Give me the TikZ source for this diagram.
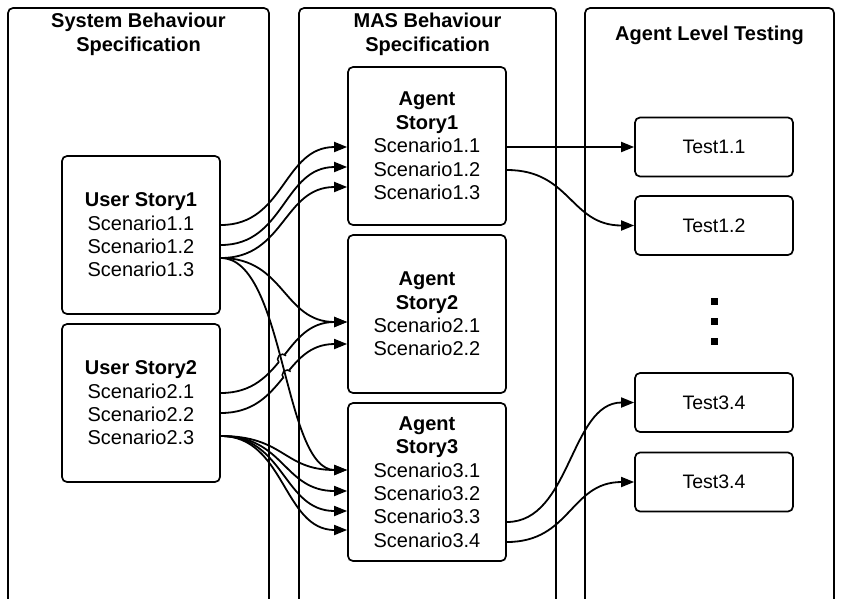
\documentclass[tikz,border=0pt]{standalone}
\usepackage{fontspec}
\setmainfont{Liberation Sans}
\usetikzlibrary{arrows.meta,intersections,calc}

\begin{document}
\begin{tikzpicture}[x=1pt,y=-1pt,
  panel/.style={draw,line width=1.7pt,rounded corners=5pt},
  story/.style={draw,line width=1.7pt,rounded corners=5pt,minimum width=158pt,
    minimum height=158pt,align=center,inner sep=0pt,
    font=\fontsize{20}{23.4}\selectfont},
  testbox/.style={draw,line width=1.7pt,rounded corners=5pt,minimum width=158pt,
    minimum height=59pt,inner sep=0pt,font=\fontsize{19.5}{23}\selectfont},
  title/.style={align=center,font=\fontsize{20}{24}\selectfont\bfseries},
  link/.style={line width=1.8pt,-{Triangle[length=13pt,width=10pt]}},
  dotmark/.style={fill,minimum size=7pt,inner sep=0pt}]

\useasboundingbox (0,0) rectangle (842,598);
\clip (0,0) rectangle (842,598);
\fill[white] (0,0) rectangle (842,598);

% three swimlane panels, running off the bottom edge
\draw[panel] (8,8) rectangle (269,640);
\draw[panel] (299,8) rectangle (556,640);
\draw[panel] (585,8) rectangle (834,640);

\node[title] (tsys) at (138.5,34) {System Behaviour\\Specification};
\node[title] (tmas) at (427.5,34) {MAS Behaviour\\Specification};
\node[title] (talt) at (709.5,35) {Agent Level Testing};

% user stories
\node[story] (us1) at (141,235) {\textbf{User Story1}\\Scenario1.1\\Scenario1.2\\Scenario1.3};
\node[story] (us2) at (141,403) {\textbf{User Story2}\\Scenario2.1\\Scenario2.2\\Scenario2.3};

% agent stories
\node[story] (ag1) at (427,146) {\textbf{Agent}\\\textbf{Story1}\\Scenario1.1\\Scenario1.2\\Scenario1.3};
\node[story] (ag2) at (427,314) {\textbf{Agent}\\\textbf{Story2}\\Scenario2.1\\Scenario2.2};
\node[story] (ag3) at (427,482) {\textbf{Agent}\\\textbf{Story3}\\Scenario3.1\\Scenario3.2\\Scenario3.3\\Scenario3.4};

% agent level tests
\node[testbox] (t11) at (714,147) {Test1.1};
\node[testbox] (t12) at (714,225.5) {Test1.2};
\node[testbox] (t31) at (714,402.5) {Test3.4};
\node[testbox] (t32) at (714,482) {Test3.4};
\node[dotmark] (d1) at (714,301) {};
\node[dotmark] (d2) at (714,321) {};
\node[dotmark] (d3) at (714,341) {};

% scenario ports
\coordinate (u1a) at ([yshift=10pt]us1.east);
\coordinate (u1b) at ([yshift=-10pt]us1.east);
\coordinate (u1c) at ([yshift=-23pt]us1.east);
\coordinate (u2a) at ([yshift=10pt]us2.east);
\coordinate (u2b) at ([yshift=-10pt]us2.east);
\coordinate (u2c) at ([yshift=-33pt]us2.east);
\coordinate (a1a) at ([yshift=-1pt]ag1.west);
\coordinate (a1b) at ([yshift=-21pt]ag1.west);
\coordinate (a1c) at ([yshift=-41pt]ag1.west);
\coordinate (a2a) at ([yshift=-8pt]ag2.west);
\coordinate (a2b) at ([yshift=-30pt]ag2.west);
\coordinate (a3a) at ([yshift=12pt]ag3.west);
\coordinate (a3b) at ([yshift=-9pt]ag3.west);
\coordinate (a3c) at ([yshift=-29pt]ag3.west);
\coordinate (a3d) at ([yshift=-48pt]ag3.west);
\coordinate (o1a) at ([yshift=-1pt]ag1.east);
\coordinate (o1b) at ([yshift=-24pt]ag1.east);
\coordinate (o3c) at ([yshift=-40pt]ag3.east);
\coordinate (o3d) at ([yshift=-60pt]ag3.east);

% user story 1 links
\draw[link] (u1a) .. controls +(64,0) and +(-64,0) .. (a1a);
\draw[link] (u1b) .. controls +(64,0) and +(-64,0) .. (a1b);
\draw[link] (u1c) .. controls +(64,0) and +(-64,0) .. (a1c);
\draw[link] (u1c) .. controls +(64,0) and +(-64,0) .. (a2a);

% user story 2 links
\draw[link, name path=hopA] (u2a) .. controls +(64,0) and +(-64,0) .. (a2a);
\draw[link, name path=hopB] (u2b) .. controls +(64,0) and +(-64,0) .. (a2b);
\foreach \t in {a3a,a3b,a3c,a3d}
  \draw[link] (u2c) .. controls +(64,0) and +(-64,0) .. (\t);

% long link from scenario 1.3 down to agent story 3, with line jumps
\path[name path=steep] (u1c) .. controls +(64,0) and +(-64,0) .. (a3a);
\path[name intersections={of=steep and hopA, by=xa}];
\path[name intersections={of=steep and hopB, by=xb}];
\fill[white] (xa) circle[radius=5.2pt];
\fill[white] (xb) circle[radius=5.2pt];
\draw[link] (u1c) .. controls +(64,0) and +(-64,0) .. (a3a);
\draw[line width=1.5pt] ($(xa)+(225:5pt)$) arc[start angle=225, end angle=45, radius=5pt];
\draw[line width=1.5pt] ($(xb)+(225:5pt)$) arc[start angle=225, end angle=45, radius=5pt];

% agent stories to tests
\draw[link] (o1a) -- (t11.west);
\draw[link] (o1b) .. controls +(64,0) and +(-64,0) .. (t12.west);
\draw[link] (o3c) .. controls +(64,0) and +(-64,0) .. (t31.west);
\draw[link] (o3d) .. controls +(64,0) and +(-64,0) .. (t32.west);
\end{tikzpicture}
\end{document}
